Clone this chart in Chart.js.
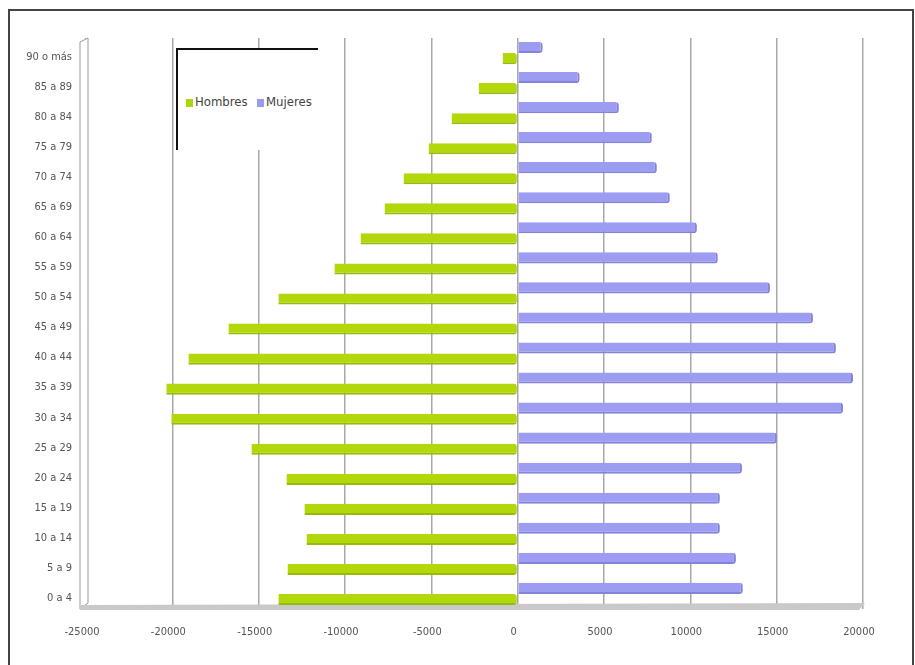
<!DOCTYPE html>
<html lang="es">
<head>
  <meta charset="UTF-8">
  <title>Pirámide de población</title>
  <script src="https://cdn.jsdelivr.net/npm/chart.js"></script>
  <style>
    html, body {
      margin: 0;
      padding: 0;
      background: #fff;
      width: 915px;
      height: 665px;
      overflow: hidden;
    }
    .frame {
      position: absolute;
      left: 8px;
      top: 9px;
      width: 902px;
      height: 700px;
      border: 2px solid #444;
    }
    .chart-wrap {
      position: absolute;
      left: 0;
      top: 0;
      width: 915px;
      height: 665px;
    }
    .legend-box {
      position: absolute;
      left: 176px;
      top: 48px;
      width: 140px;
      height: 100px;
      background: #fff;
      border-top: 2px solid #111;
      border-left: 2px solid #111;
      font-family: 'Liberation Sans Narrow', 'DejaVu Sans Condensed', Arial, sans-serif;
      font-size: 13px;
      color: #444;
    }
    .legend-box .item {
      position: absolute;
      top: 44px;
      white-space: nowrap;
    }
    .legend-box .sw {
      display: inline-block;
      width: 7px;
      height: 8px;
      margin-right: 2px;
      vertical-align: -1px;
    }
  </style>
</head>
<body>
  <div class="frame"></div>
  <div class="chart-wrap">
    <canvas id="pyramid" width="915" height="665"></canvas>
  </div>
  <div class="legend-box">
    <span class="item" style="left:8px"><span class="sw" style="background:#aed60d"></span>Hombres</span>
    <span class="item" style="left:79px"><span class="sw" style="background:#9a9af0"></span>Mujeres</span>
  </div>
  <script>
    // age groups, top to bottom
    const grupos = ['90 o más', '85 a 89', '80 a 84', '75 a 79', '70 a 74', '65 a 69', '60 a 64',
      '55 a 59', '50 a 54', '45 a 49', '40 a 44', '35 a 39', '30 a 34', '25 a 29',
      '20 a 24', '15 a 19', '10 a 14', '5 a 9', '0 a 4'];
    const hombres = [-870, -2260, -3830, -5160, -6610, -7710, -9100, -10610, -13860, -16750,
      -19070, -20350, -20060, -15420, -13390, -12350, -12230, -13330, -13860];
    const mujeres = [1450, 3590, 5860, 7770, 8060, 8810, 10380, 11590, 14610, 17100,
      18430, 19420, 18840, 15010, 12990, 11710, 11710, 12640, 13040];
    const xMin = -25000, xMax = 20000, xStep = 5000;

    const fontFam = "'Liberation Sans Narrow', 'DejaVu Sans Condensed', Arial, sans-serif";

    // thin side wall and floor, like the old excel 3d look
    const wallFloor = {
      id: 'wallFloor',
      beforeDatasetsDraw(chart) {
        const { ctx, chartArea: a } = chart;
        ctx.save();
        ctx.strokeStyle = '#9a9a9a';
        ctx.lineWidth = 1;
        ctx.fillStyle = '#fff';
        ctx.beginPath();
        ctx.moveTo(a.left - 6, a.top + 4);
        ctx.lineTo(a.left + 2, a.top);
        ctx.lineTo(a.left + 2, a.bottom - 6);
        ctx.lineTo(a.left - 6, a.bottom);
        ctx.closePath();
        ctx.fill();
        ctx.stroke();
        ctx.fillStyle = '#c9c9c9';
        ctx.beginPath();
        ctx.moveTo(a.left - 6, a.bottom - 4);
        ctx.lineTo(a.right + 2, a.bottom - 6);
        ctx.lineTo(a.right - 4, a.bottom + 1);
        ctx.lineTo(a.left - 6, a.bottom + 1);
        ctx.closePath();
        ctx.fill();
        ctx.restore();
      }
    };

    new Chart(document.getElementById('pyramid').getContext('2d'), {
      type: 'bar',
      data: {
        labels: grupos,
        datasets: [
          {
            label: 'Mujeres',
            data: mujeres,
            backgroundColor: '#9c9cf2',
            borderColor: '#8383d8',
            borderWidth: { bottom: 2, right: 2 },
            borderRadius: 3,
            borderSkipped: 'left'
          },
          {
            label: 'Hombres',
            data: hombres,
            backgroundColor: '#b2d80c',
            borderColor: '#97bb0a',
            borderWidth: { bottom: 2, left: 2 },
            borderRadius: 3,
            borderSkipped: 'right'
          }
        ]
      },
      options: {
        indexAxis: 'y',
        responsive: false,
        animation: false,
        layout: { padding: { left: 0, right: 52, top: 38, bottom: 0 } },
        datasets: { bar: { categoryPercentage: 0.74, barPercentage: 1.0 } },
        plugins: {
          legend: { display: false },
          tooltip: { enabled: false }
        },
        scales: {
          x: {
            min: xMin,
            max: xMax,
            afterFit(scale) { scale.height = 56; },
            grid: { color: '#a8a8a8', lineWidth: 1.5, drawTicks: false },
            border: { display: false },
            ticks: {
              stepSize: xStep,
              padding: 17,
              labelOffset: -4,
              color: '#555',
              font: { family: fontFam, size: 11 },
              callback: v => String(v)
            }
          },
          y: {
            afterFit(scale) { scale.width = 86; },
            grid: { display: false, drawTicks: false },
            border: { display: false },
            ticks: {
              padding: 14,
              labelOffset: 4,
              color: '#555',
              font: { family: fontFam, size: 11 }
            }
          }
        }
      },
      plugins: [wallFloor]
    });
  </script>
</body>
</html>
